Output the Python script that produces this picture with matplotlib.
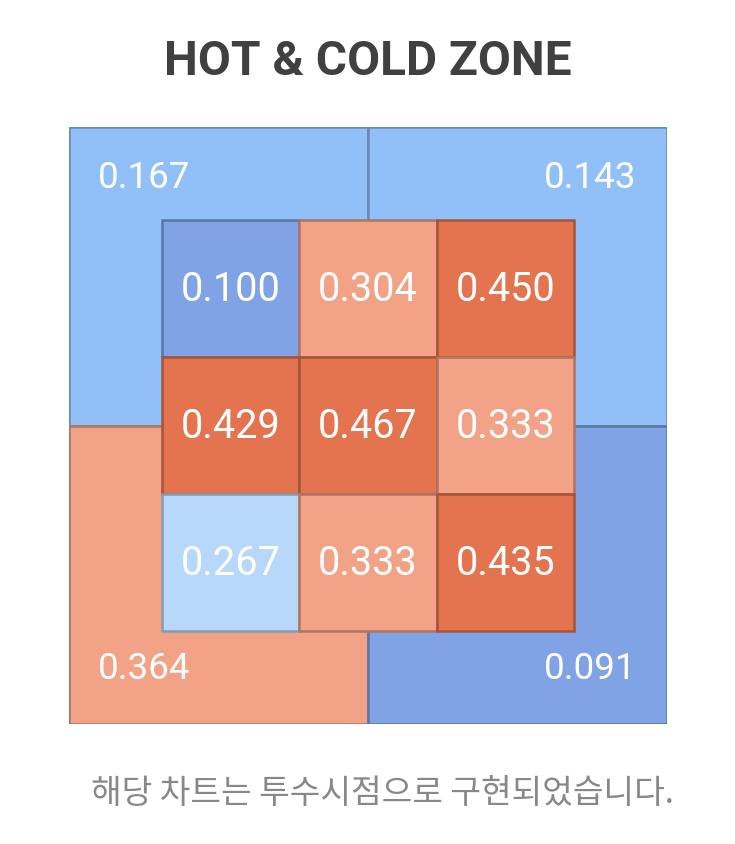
import matplotlib.pyplot as plt
import numpy as np
from matplotlib.colors import ListedColormap, BoundaryNorm, to_rgb
from matplotlib.patches import Rectangle

# strike zone values (inner 3x3, top row first) and outer quadrants
inner = [[0.100, 0.304, 0.450],
         [0.429, 0.467, 0.333],
         [0.267, 0.333, 0.435]]
outer_names = ['top_left', 'top_right', 'bottom_left', 'bottom_right']
outer = [0.167, 0.143, 0.364, 0.091]

title = 'HOT & COLD ZONE'
note = '해당 차트는 투수시점으로 구현되었습니다.'

# colour bins
bounds = [0, 0.125, 0.2, 0.3, 0.4, 1.0]
cols = ['#7FA3E5', '#91C0F8', '#B8D8FA', '#F1A287', '#E3744F']
cmap = ListedColormap(cols)
norm = BoundaryNorm(bounds, cmap.N)

def edge_of(c):
    r, g, b = to_rgb(c)
    return (r * 0.72, g * 0.72, b * 0.72)

fig = plt.figure(figsize=(7.35, 8.44), dpi=100)
fig.patch.set_facecolor('white')

# axes placed on the outer box (pixels 69..667 x, 127..724 y)
W, H = 735, 844
ax = fig.add_axes([69 / W, (H - 724) / H, 598 / W, 597 / H])
m = 0.68  # outer margin in cell units
ax.set_xlim(-m, 3 + m)
ax.set_ylim(-m, 3 + m)
ax.axis('off')

num_font = ['Roboto', 'DejaVu Sans']

# outer quadrants
quad = {'top_left': (-m, 1.5, 'left'), 'top_right': (1.5, 1.5, 'right'),
        'bottom_left': (-m, -m, 'left'), 'bottom_right': (1.5, -m, 'right')}
qw = 1.5 + m
for name, v in zip(outer_names, outer):
    x0, y0, ha = quad[name]
    c = cmap(norm(v))
    ax.add_patch(Rectangle((x0, y0), qw, qw, facecolor=c, edgecolor=edge_of(c),
                           linewidth=1.8, zorder=1))
    tx = x0 + 0.21 if ha == 'left' else x0 + qw - 0.22
    ty = y0 + qw - 0.37 if name.startswith('top') else y0 + 0.4
    ax.text(tx, ty, f'{v:.3f}', ha=ha, va='center', color='white',
            fontsize=26.5, family=num_font, zorder=5)

# inner grid
for i, row in enumerate(inner):
    for j, v in enumerate(row):
        c = cmap(norm(v))
        y0 = 2 - i
        ax.add_patch(Rectangle((j, y0), 1, 1, facecolor=c, edgecolor=edge_of(c),
                               linewidth=1.8, zorder=3))
        ax.text(j + 0.5, y0 + 0.49, f'{v:.3f}', ha='center', va='center',
                color='white', fontsize=28.5, family=num_font, zorder=5)

fig.text(0.5, 1 - 62 / H, title, ha='center', va='center', fontsize=34.5,
         fontweight='bold', color='#404040', family=['Roboto', 'DejaVu Sans'])
fig.text(382 / W, 1 - 793 / H, note, ha='center', va='center', fontsize=24,
         color='#888888', family=['Noto Sans CJK KR', 'DejaVu Sans'])

fig.savefig('out.png', dpi=100, facecolor='white')
